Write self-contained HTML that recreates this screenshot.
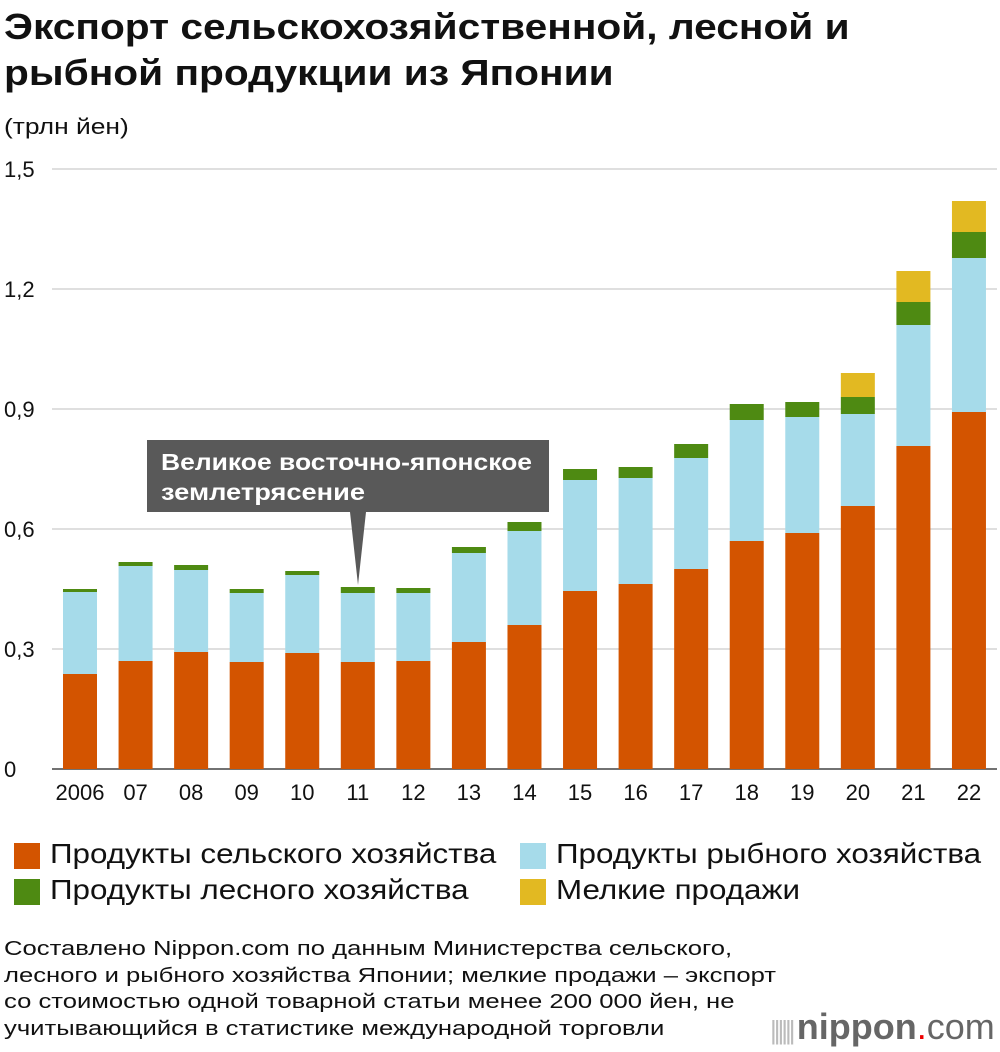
<!DOCTYPE html>
<html><head><meta charset="utf-8"><style>
body{margin:0;width:1000px;height:1052px;background:#fff;font-family:"Liberation Sans",sans-serif;position:relative;overflow:hidden;color:#111}
.t{position:absolute;white-space:nowrap;transform-origin:0 0}
.sq{position:absolute;width:26px;height:26px}
</style></head><body>
<div class="t" style="left:4px;top:4px;font-size:36px;font-weight:bold;line-height:46px;transform:scaleX(1.13)">Экспорт сельскохозяйственной, лесной и<br>рыбной продукции из Японии</div>
<div class="t" style="left:4px;top:114px;font-size:22px;transform:scaleX(1.2)">(трлн йен)</div>
<svg id="chart" width="1000" height="820" style="position:absolute;left:0;top:0"></svg>
<div class="sq" style="left:14px;top:843px;background:#d35400"></div>
<div class="t" style="left:50px;top:838px;font-size:28px;transform:scaleX(1.12)">Продукты сельского хозяйства</div>
<div class="sq" style="left:520px;top:843px;background:#a6dbea"></div>
<div class="t" style="left:556px;top:838px;font-size:28px;transform:scaleX(1.12)">Продукты рыбного хозяйства</div>
<div class="sq" style="left:14px;top:879px;background:#4e8a12"></div>
<div class="t" style="left:50px;top:874px;font-size:28px;transform:scaleX(1.12)">Продукты лесного хозяйства</div>
<div class="sq" style="left:520px;top:879px;background:#e2b922"></div>
<div class="t" style="left:556px;top:874px;font-size:28px;transform:scaleX(1.12)">Мелкие продажи</div>
<div class="t" style="left:4px;top:936px;font-size:20.5px;line-height:26.7px;transform:scaleX(1.25)">Составлено Nippon.com по данным Министерства сельского,<br>лесного и рыбного хозяйства Японии; мелкие продажи – экспорт<br>со стоимостью одной товарной статьи менее 200 000 йен, не<br>учитывающийся в статистике международной торговли</div>
<div class="t" style="left:770px;top:1006px;font-size:36px;color:#666"><span style="color:#bbb;font-size:26px;letter-spacing:-3px">|||||| </span><b>nippon</b><span style="color:#e00">.</span>com</div>
<script>
const years=["2006","07","08","09","10","11","12","13","14","15","16","17","18","19","20","21","22"];
const agri=[0.2375,0.27,0.2925,0.2675,0.29,0.2675,0.27,0.3175,0.36,0.445,0.4625,0.5,0.57,0.59,0.6575,0.8075,0.8925];
const fish=[0.205,0.2375,0.205,0.1725,0.195,0.1725,0.17,0.2225,0.235,0.2775,0.265,0.2775,0.3025,0.29,0.23,0.3025,0.385];
const forest=[0.0075,0.01,0.0125,0.01,0.01,0.015,0.0125,0.015,0.0225,0.0275,0.0275,0.035,0.04,0.0375,0.0425,0.0575,0.065];
const small=[0,0,0,0,0,0,0,0,0,0,0,0,0,0,0.06,0.0775,0.0775];
const ticks=[0,0.3,0.6,0.9,1.2,1.5];
const tickLabels=["0","0,3","0,6","0,9","1,2","1,5"];
const svg=document.getElementById('chart');const NS="http://www.w3.org/2000/svg";
const y=v=>769-v*400;const x=i=>80+i*55.56;
function mk(t,a){const e=document.createElementNS(NS,t);for(const k in a)e.setAttribute(k,a[k]);svg.appendChild(e);return e;}
ticks.forEach((t,i)=>{
 const l=mk('line',{x1:52,x2:997,y1:y(t),y2:y(t),stroke:t==0?'#444':'#ccc','stroke-width':t==0?1.5:1.2});
 
 
 const tx=mk('text',{x:4,y:y(t)+8,'font-size':22,fill:'#111'});tx.textContent=tickLabels[i];
 
 
});
const series=[[agri,'#d35400','agri'],[fish,'#a6dbea','fish'],[forest,'#4e8a12','forest'],[small,'#e2b922','small']];
years.forEach((yr,i)=>{
 let base=0;
 series.forEach(([arr,c,n])=>{const v=arr[i];if(v>0){
  const r=mk('rect',{x:x(i)-17,y:y(base+v),width:34,height:v*400,fill:c});
  
  
 }base+=v;});
 const tx=mk('text',{x:x(i),y:800,'font-size':22,'text-anchor':'middle',fill:'#111'});tx.textContent=yr;
 
 
});
const b=mk('path',{d:'M147 440 H549 V512 H366 L358 585 L350 512 H147 Z',fill:'#595959'});


const t1=mk('text',{x:161,y:470,'font-size':23,'font-weight':'bold',fill:'#fff',textLength:371,lengthAdjust:'spacingAndGlyphs'});t1.textContent='Великое восточно-японское';
const t2=mk('text',{x:161,y:500,'font-size':23,'font-weight':'bold',fill:'#fff',textLength:204,lengthAdjust:'spacingAndGlyphs'});t2.textContent='землетрясение';
</script>
</body></html>
